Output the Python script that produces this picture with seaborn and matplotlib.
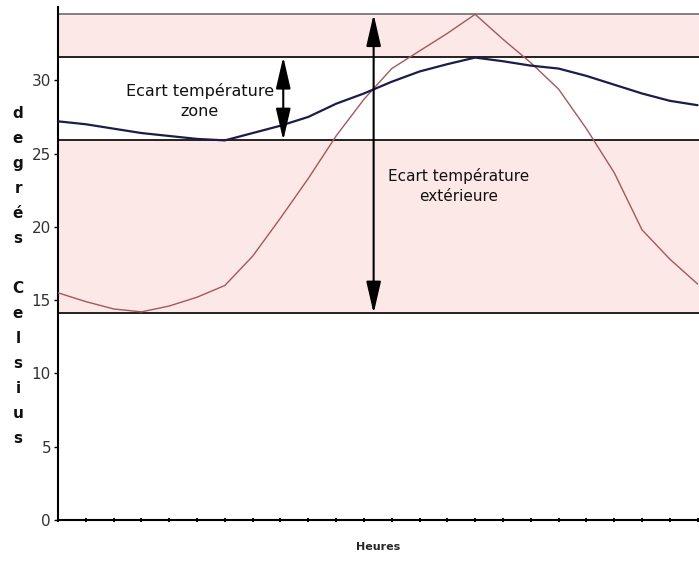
import pandas as pd
import numpy as np
import matplotlib.pyplot as plt
import seaborn as sns

# lecture du graphique (heures 0..23)
heures = list(range(24))
temp_exterieure = [15.5, 14.9, 14.4, 14.2, 14.6, 15.2, 16.0, 18.0, 20.6, 23.3, 26.2, 28.7,
                   30.8, 32.0, 33.2, 34.5, 32.8, 31.2, 29.4, 26.7, 23.7, 19.8, 17.8, 16.1]
temp_zone = [27.2, 27.0, 26.7, 26.4, 26.2, 26.0, 25.9, 26.4, 26.9, 27.5, 28.4, 29.1,
             29.9, 30.6, 31.1, 31.55, 31.3, 31.0, 30.8, 30.3, 29.7, 29.1, 28.6, 28.3]

# bornes des ecarts
ext_min, ext_max = 14.1, 34.5
zone_min, zone_max = 25.9, 31.6
y_ticks = [0, 5, 10, 15, 20, 25, 30]

sns.set_style("white")
plt.rcParams['font.family'] = ['DejaVu Sans']

df = pd.DataFrame({
    'Heures': heures * 2,
    'Temp': temp_exterieure + temp_zone,
    'Serie': ['ext'] * 24 + ['zone'] * 24,
})

fig = plt.figure(figsize=(6.99, 5.62), dpi=100)
ax = fig.add_axes([58 / 699, 1 - 520 / 562, 1 - 58 / 699, 513 / 562])

# zones roses
ax.axhspan(ext_min, zone_min, color='#fde8e8', lw=0, zorder=0)
ax.axhspan(zone_max, ext_max, color='#fde8e8', lw=0, zorder=0)
for yv, c in [(ext_min, '#111111'), (zone_min, '#111111'), (zone_max, '#111111'), (ext_max, '#777777')]:
    ax.axhline(yv, color=c, lw=1.3, zorder=1)

sns.lineplot(data=df[df.Serie == 'ext'], x='Heures', y='Temp', color='#a4585a', lw=1.0, ax=ax, zorder=3)
sns.lineplot(data=df[df.Serie == 'zone'], x='Heures', y='Temp', color='#1c1c4a', lw=1.6, ax=ax, zorder=4)

# fleches
arrow = dict(arrowstyle='<|-|>,head_length=1.3,head_width=0.3', color='black', lw=1.5,
             shrinkA=0, shrinkB=0, mutation_scale=15)
ax.annotate('', xy=(8.1, zone_max), xytext=(8.1, zone_min), arrowprops=arrow, zorder=5)
ax.annotate('', xy=(11.35, ext_max), xytext=(11.35, ext_min), arrowprops=arrow, zorder=5)

ax.text(5.1, 28.6, 'Ecart température\nzone', ha='center', va='center', fontsize=11.5,
        linespacing=1.45, color='#111111')
ax.text(14.4, 22.8, 'Ecart température\nextérieure', ha='center', va='center', fontsize=11,
        linespacing=1.45, color='#111111')

ax.set_xlim(0, 23.05)
ax.set_ylim(0, 35)
ax.set_xticks(heures)
ax.set_xticklabels([])
ax.set_yticks(y_ticks)
ax.set_yticklabels([str(v) for v in y_ticks], fontsize=11, color='#333333')
ax.tick_params(axis='x', bottom=True, direction='inout', length=3, width=1.4, color='black')
ax.tick_params(axis='y', left=True, direction='out', length=3, width=1, color='black', pad=2)
for s in ['top', 'right']:
    ax.spines[s].set_visible(False)
for s in ['left', 'bottom']:
    ax.spines[s].set_color('black')
    ax.spines[s].set_linewidth(1.5)

ax.set_xlabel('Heures', fontsize=8, fontweight='bold', labelpad=11)
ax.set_ylabel('')
fig.text(18 / 699, 1 - 276 / 562, 'd\ne\ng\nr\né\ns\n\nC\ne\nl\ns\ni\nu\ns', ha='center', va='center',
         fontsize=11, fontweight='bold', linespacing=1.83, color='#111111')

fig.savefig('out.png', dpi=100)
